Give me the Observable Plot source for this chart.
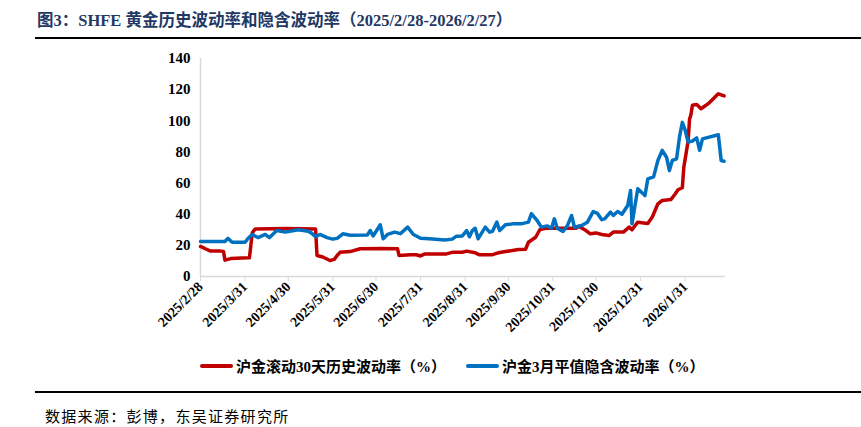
<!DOCTYPE html>
<html>
<head>
<meta charset="utf-8">
<script src="https://cdn.jsdelivr.net/npm/d3@7"></script>
<script src="https://cdn.jsdelivr.net/npm/@observablehq/plot@0.6"></script>
<style>
  html, body { margin: 0; padding: 0; background: #fff; }
  #wrap { position: relative; width: 861px; height: 427px; overflow: hidden; font-family: "Liberation Serif", "Noto Sans CJK SC", serif; }
  #chart { position: absolute; left: 0; top: 0; }
  .title { position: absolute; left: 37px; top: 7px; font-size: 16.5px; font-weight: bold; color: #1F3864; white-space: nowrap; }
  .rule { position: absolute; left: 35px; right: 0; background: #000; }
  .legend { position: absolute; top: 355px; left: 0; width: 861px; height: 22px; font-size: 15px; font-weight: bold; color: #000; }
  .legend .item { position: absolute; display: flex; align-items: center; white-space: nowrap; }
  .legend .swatch { width: 33px; height: 4px; border-radius: 2px; margin-right: 3px; }
  .source { position: absolute; left: 45px; top: 405px; font-size: 15px; letter-spacing: 1.3px; color: #000; white-space: nowrap; font-family: "Noto Sans CJK SC", sans-serif; }
</style>
</head>
<body>
<div id="wrap">
  <div id="chart"></div>
  <div class="title">图3：SHFE 黄金历史波动率和隐含波动率（2025/2/28-2026/2/27）</div>
  <div class="rule" style="top:37px;height:2px;"></div>
  <div class="legend" id="legend"></div>
  <div class="rule" style="top:391px;height:1.5px;"></div>
  <div class="source">数据来源：彭博，东吴证券研究所</div>
</div>
<script>
// ---- Data ----
const seriesNames = ["沪金滚动30天历史波动率（%）", "沪金3月平值隐含波动率（%）"];
const seriesColors = ["#C00000", "#0070C0"];

const hvDates = [
  "2025-02-28","2025-03-03","2025-03-07","2025-03-14","2025-03-16","2025-03-17","2025-03-21",
  "2025-04-02","2025-04-03","2025-04-05","2025-04-07","2025-04-28","2025-05-19","2025-05-20",
  "2025-05-24","2025-05-29","2025-06-01","2025-06-03","2025-06-05","2025-06-12","2025-06-19",
  "2025-07-03","2025-07-15","2025-07-16","2025-07-24","2025-07-28","2025-07-31","2025-08-03",
  "2025-08-18","2025-08-22","2025-08-29","2025-09-01","2025-09-07","2025-09-10","2025-09-19",
  "2025-09-23","2025-09-28","2025-10-07","2025-10-12","2025-10-14","2025-10-19","2025-10-22",
  "2025-10-26","2025-11-16","2025-11-18","2025-11-23","2025-11-26","2025-11-30","2025-12-04",
  "2025-12-09","2025-12-12","2025-12-19","2025-12-23","2025-12-25","2025-12-29","2026-01-05",
  "2026-01-08","2026-01-12","2026-01-15","2026-01-21","2026-01-24","2026-01-26","2026-01-29",
  "2026-01-30","2026-02-02","2026-02-03","2026-02-04","2026-02-05","2026-02-08","2026-02-11",
  "2026-02-16","2026-02-23","2026-02-27"
];
const hvValues = [
  19.3,18,16.3,16.3,16,10.5,11.5,
  12,12,28,30.5,30.8,30.5,13.5,
  12.5,10.3,11,13.5,15.5,16,17.8,
  18,17.8,13.5,14,14,13.2,14.5,
  14.5,15.5,15.6,16.3,15.2,13.9,14,
  15.2,16,17.3,17.5,22,25.2,30.2,
  31,31,32.3,29.5,27.4,28,27,
  26.3,28.5,28.5,31.7,30,34.9,34,
  38,46.7,48.8,49.4,53,55.7,57,
  70,87,101,104,110,110.5,107.7,
  111,117.3,116
];

const ivDates = [
  "2025-02-28","2025-03-17","2025-03-19","2025-03-22","2025-03-31","2025-04-02","2025-04-05",
  "2025-04-09","2025-04-14","2025-04-17","2025-04-22","2025-04-28","2025-05-07","2025-05-14",
  "2025-05-16","2025-05-19","2025-05-22","2025-05-27","2025-05-31","2025-06-03","2025-06-07",
  "2025-06-12","2025-06-24","2025-06-26","2025-06-28","2025-07-03","2025-07-05","2025-07-08",
  "2025-07-13","2025-07-17","2025-07-22","2025-07-26","2025-07-31","2025-08-06","2025-08-17",
  "2025-08-22","2025-08-25","2025-08-29","2025-09-01","2025-09-03","2025-09-05","2025-09-07",
  "2025-09-09","2025-09-14","2025-09-17","2025-09-19","2025-09-22","2025-09-24","2025-09-28",
  "2025-10-03","2025-10-09","2025-10-14","2025-10-16","2025-10-20","2025-10-23","2025-10-27",
  "2025-10-30","2025-11-01","2025-11-03","2025-11-07","2025-11-10","2025-11-13","2025-11-15",
  "2025-11-20","2025-11-24","2025-11-28","2025-12-01","2025-12-04","2025-12-06","2025-12-10",
  "2025-12-12","2025-12-15","2025-12-18","2025-12-22","2025-12-24","2025-12-25","2025-12-29",
  "2026-01-03","2026-01-05","2026-01-09","2026-01-12","2026-01-15","2026-01-18","2026-01-20",
  "2026-01-22","2026-01-25","2026-01-27","2026-01-29","2026-01-31","2026-02-02","2026-02-05",
  "2026-02-08","2026-02-10","2026-02-12","2026-02-23","2026-02-25","2026-02-27"
];
const ivValues = [
  22.5,22.5,24.5,22,22,24.4,27,
  25,27,25,29.5,28.5,30,29,
  28,25.5,27,25,24,24.5,27.4,
  26.5,26.7,29.5,26,33.2,24.2,27,
  28.5,27.5,31.7,27,24.6,24.2,23.5,
  24,25.9,26,29.5,25.5,29.5,31,
  24.2,31.7,28.5,29,34.9,29.5,33.2,
  33.8,33.8,34.9,40.3,36,31.7,32.5,
  31,37,31,28.9,32.5,39.2,31.5,
  32.8,34.9,41.7,40.5,36.5,37,41.3,
  39.2,41.7,40,45.6,55.2,33.8,56.3,
  52,62.7,64,74.5,81,76.6,68,
  74.5,75.6,89.5,99,93.8,86.3,87,
  89,81,88.4,91,74.5,74
];

const xTickDates = ["2025-02-28","2025-03-31","2025-04-30","2025-05-31","2025-06-30","2025-07-31",
  "2025-08-31","2025-09-30","2025-10-31","2025-11-30","2025-12-31","2026-01-31"];
const xDomain = ["2025-02-28","2026-02-28"];
const yTicks = [0,20,40,60,80,100,120,140];

// ---- Build ----
const parse = d3.utcParse("%Y-%m-%d");
const hv = hvDates.map((d,i) => ({date: parse(d), value: hvValues[i]}));
const iv = ivDates.map((d,i) => ({date: parse(d), value: ivValues[i]}));
const fmt = d => `${d.getUTCFullYear()}/${d.getUTCMonth()+1}/${d.getUTCDate()}`;

const W = 861, H = 345;
const chart = Plot.plot({
  width: W, height: H,
  marginLeft: 200, marginRight: 136, marginTop: 58, marginBottom: 69,
  style: {fontFamily: "'Liberation Serif', 'Times New Roman', serif", fontSize: "14px", fontWeight: "bold", color: "#000", background: "#fff"},
  x: {type: "utc", domain: xDomain.map(parse)},
  y: {domain: [0, 140]},
  marks: [
    Plot.ruleY([0], {stroke: "#d9d9d9", strokeWidth: 1.5}),
    Plot.ruleX([parse(xDomain[0])], {stroke: "#d9d9d9", strokeWidth: 1.5}),
    Plot.axisY({ticks: yTicks, tickSize: 0, tickPadding: 10, label: null, fontSize: 15, fontWeight: "bold"}),
    Plot.axisX({ticks: xTickDates.map(parse), tickFormat: fmt, tickSize: 5, tickPadding: 3, tickRotate: -45, label: null, stroke: "#d9d9d9", fontSize: 14, fontWeight: "bold"}),
    Plot.line(hv, {x: "date", y: "value", stroke: seriesColors[0], strokeWidth: 3.5, strokeLinejoin: "round", strokeLinecap: "round"}),
    Plot.line(iv, {x: "date", y: "value", stroke: seriesColors[1], strokeWidth: 3.5, strokeLinejoin: "round", strokeLinecap: "round"})
  ]
});
document.getElementById("chart").appendChild(chart);

// Legend
const legend = document.getElementById("legend");
const lx = [200, 466];
seriesNames.forEach((n, i) => {
  const it = document.createElement("div");
  it.className = "item";
  it.style.left = lx[i] + "px";
  it.style.top = "0px";
  it.innerHTML = `<span class="swatch" style="background:${seriesColors[i]}"></span><span>${n}</span>`;
  legend.appendChild(it);
});
</script>
</body>
</html>
